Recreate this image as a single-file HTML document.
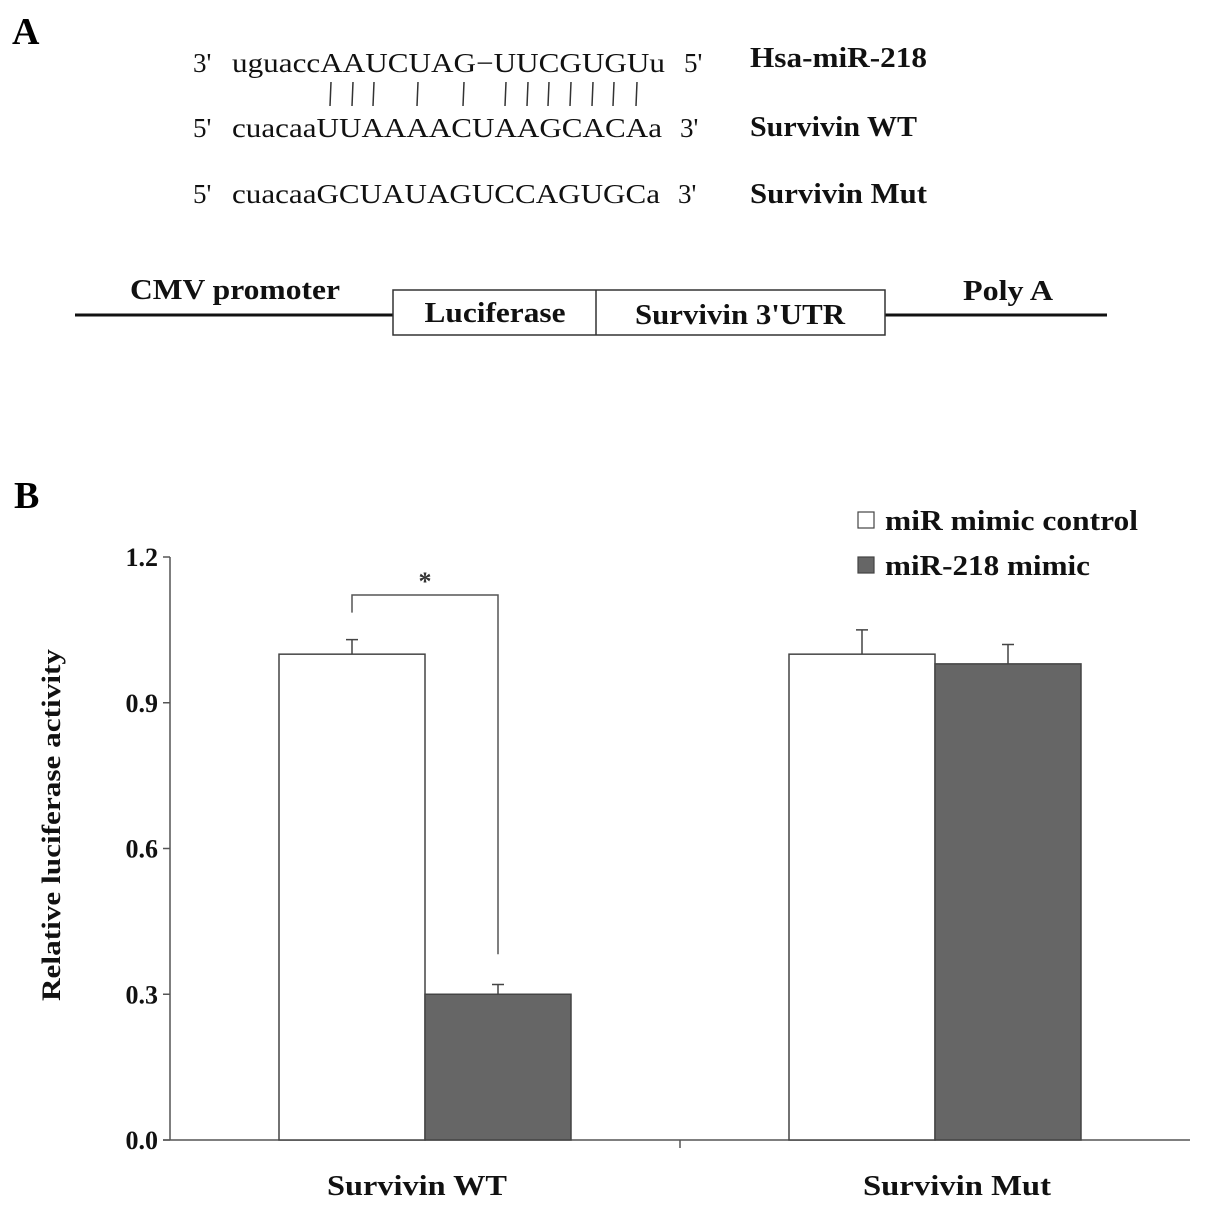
<!DOCTYPE html>
<html><head><meta charset="utf-8"><style>
body{margin:0;background:#fff}
svg{display:block;font-family:"Liberation Serif",serif}
</style></head><body>
<svg id="fig" width="1205" height="1208" viewBox="0 0 1205 1208" xmlns="http://www.w3.org/2000/svg">
<text x="12" y="44" font-size="38" font-weight="bold">A</text>
<g font-size="27" fill="#111">
<text x="193" y="72">3'</text>
<text x="232" y="72" textLength="433" lengthAdjust="spacingAndGlyphs">uguaccAAUCUAG−UUCGUGUu</text>
<text x="684" y="72">5'</text>
<text x="193" y="137">5'</text>
<text x="232" y="137" textLength="430" lengthAdjust="spacingAndGlyphs">cuacaaUUAAAACUAAGCACAa</text>
<text x="680" y="137">3'</text>
<text x="193" y="203">5'</text>
<text x="232" y="203" textLength="428" lengthAdjust="spacingAndGlyphs">cuacaaGCUAUAGUCCAGUGCa</text>
<text x="678" y="203">3'</text>
</g>
<g id="pairs" stroke="#333" stroke-width="1.5"></g>
<g font-size="29" font-weight="bold" fill="#111">
<text x="750" y="67" textLength="177" lengthAdjust="spacingAndGlyphs">Hsa-miR-218</text>
<text x="750" y="136" textLength="167" lengthAdjust="spacingAndGlyphs">Survivin WT</text>
<text x="750" y="203" textLength="177" lengthAdjust="spacingAndGlyphs">Survivin Mut</text>
</g>
<g>
<line x1="75" y1="315" x2="393" y2="315" stroke="#111" stroke-width="3"/>
<line x1="885" y1="315" x2="1107" y2="315" stroke="#111" stroke-width="3"/>
<rect x="393" y="290" width="492" height="45" fill="#fff" stroke="#333" stroke-width="1.5"/>
<line x1="596" y1="290" x2="596" y2="335" stroke="#333" stroke-width="1.5"/>
<g font-size="29" font-weight="bold" fill="#111" text-anchor="middle">
<text x="235" y="299" textLength="210" lengthAdjust="spacingAndGlyphs">CMV promoter</text>
<text x="495" y="322" textLength="141" lengthAdjust="spacingAndGlyphs">Luciferase</text>
<text x="740" y="324" textLength="210" lengthAdjust="spacingAndGlyphs">Survivin 3'UTR</text>
<text x="1008" y="300" textLength="90" lengthAdjust="spacingAndGlyphs">Poly A</text>
</g>
</g>
<text x="14" y="508" font-size="38" font-weight="bold">B</text>
<g id="chart"></g>
</svg>
<script>
const categories = ["Survivin WT", "Survivin Mut"];
const seriesNames = ["miR mimic control", "miR-218 mimic"];
const controlValues = [1.0, 1.0];
const mimicValues = [0.30, 0.98];
const controlErrors = [0.03, 0.05];
const mimicErrors = [0.02, 0.04];
const yTicks = ["0.0", "0.3", "0.6", "0.9", "1.2"];

const NS = "http://www.w3.org/2000/svg";
function mk(tag, attrs, parent) {
  const e = document.createElementNS(NS, tag);
  for (const k in attrs) e.setAttribute(k, attrs[k]);
  parent.appendChild(e);
  return e;
}
const pairs = document.getElementById('pairs');
[330,352,373,417,463,505,527,548,570,592,613,636].forEach(x => {
  const l = mk('path', {d: `M${x+1} 82 L${x} 106`}, pairs);
  
  
});

const chart = document.getElementById('chart');
const x0 = 170, x1 = 1190, yBase = 1140, yTop = 557, yMax = 1.2;
const y = v => yBase - (v / yMax) * (yBase - yTop);
const groupW = (x1 - x0) / categories.length;
const barW = 146;
const gx = i => x0 + groupW * i + groupW / 2;

let ax = mk('line', {x1: x0, y1: yTop, x2: x0, y2: yBase, stroke: '#555', 'stroke-width': 1.5}, chart);


ax = mk('line', {x1: x0 - 7, y1: yBase, x2: x1, y2: yBase, stroke: '#555', 'stroke-width': 1.5}, chart);


yTicks.forEach(t => {
  const v = parseFloat(t), yy = y(v);
  const tk = mk('line', {x1: x0 - 7, y1: yy, x2: x0, y2: yy, stroke: '#555', 'stroke-width': 1.5}, chart);
  
  
  const tl = mk('text', {x: x0 - 12, y: yy + 9, 'text-anchor': 'end', 'font-size': 26, 'font-weight': 'bold', fill: '#111'}, chart);
  tl.textContent = t;
  
  
});
const mt = mk('line', {x1: x0 + groupW, y1: yBase, x2: x0 + groupW, y2: yBase + 8, stroke: '#555', 'stroke-width': 1.5}, chart);


const yt = mk('text', {x: 0, y: 0, transform: 'translate(60,825) rotate(-90)', 'text-anchor': 'middle', 'font-size': 26, 'font-weight': 'bold', fill: '#111', textLength: 352, lengthAdjust: 'spacingAndGlyphs'}, chart);
yt.textContent = 'Relative luciferase activity';



categories.forEach((c, i) => {
  const cx = gx(i);
  const lab = mk('text', {x: cx - 8 + i * 30, y: 1195, 'text-anchor': 'middle', 'font-size': 29, 'font-weight': 'bold', fill: '#111', textLength: 180 + i * 8, lengthAdjust: 'spacingAndGlyphs'}, chart);
  lab.textContent = c;
  
  
  [[controlValues, controlErrors, '#fff', -barW], [mimicValues, mimicErrors, '#666', 0]].forEach(([vals, errs, fill, off], s) => {
    const bx = cx + off, top = y(vals[i]);
    const r = mk('rect', {x: bx, y: top, width: barW, height: yBase - top, fill: fill, stroke: '#444', 'stroke-width': 1.5}, chart);
    
    
    const ex = bx + barW / 2, ey = y(vals[i] + errs[i]);
    const e = mk('path', {d: `M${ex} ${top} L${ex} ${ey} M${ex - 6} ${ey} L${ex + 6} ${ey}`, stroke: '#444', 'stroke-width': 1.5, fill: 'none'}, chart);
    
    
  });
});

const bl = gx(0) - barW / 2, br = gx(0) + barW / 2;
const br1 = mk('path', {d: `M${bl} ${y(controlValues[0] + controlErrors[0]) - 27} L${bl} 595 L${br} 595 L${br} ${y(mimicValues[0]) - 40}`, stroke: '#555', 'stroke-width': 1.5, fill: 'none'}, chart);


const st = mk('text', {x: (bl + br) / 2, y: 590, 'text-anchor': 'middle', 'font-size': 26, 'font-weight': 'bold', fill: '#333'}, chart);
st.textContent = '*';



seriesNames.forEach((n, i) => {
  const ly = 521 + i * 45;
  const sw = mk('rect', {x: 858, y: ly - 9, width: 16, height: 16, fill: i ? '#666' : '#fff', stroke: '#444', 'stroke-width': 1.2}, chart);
  
  
  const lt = mk('text', {x: 885, y: ly + 9, 'font-size': 29, 'font-weight': 'bold', fill: '#111', textLength: i ? 205 : 253, lengthAdjust: 'spacingAndGlyphs'}, chart);
  lt.textContent = n;
  
  
});
</script>
</body></html>
